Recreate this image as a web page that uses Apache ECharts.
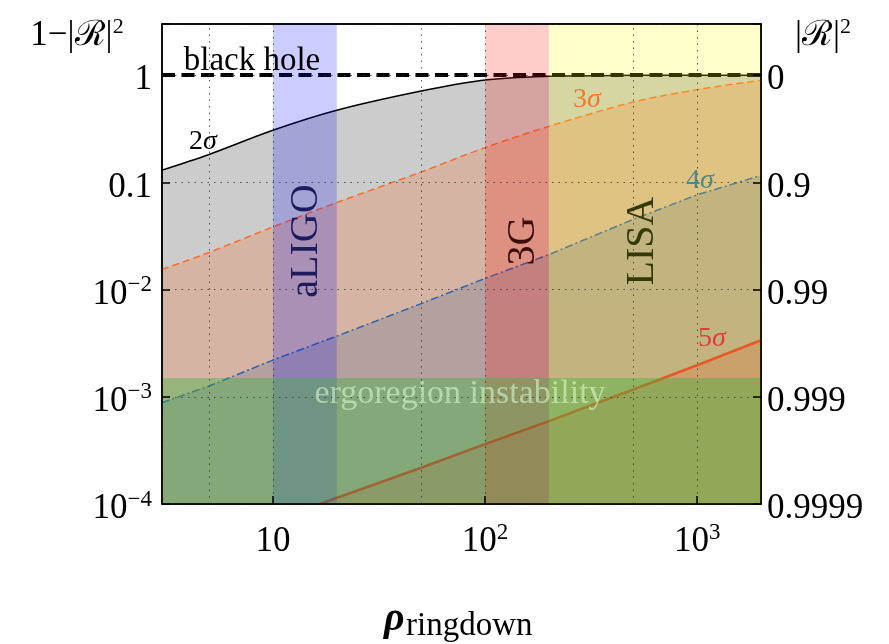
<!DOCTYPE html>
<html><head><meta charset="utf-8">
<script src="https://cdn.jsdelivr.net/npm/echarts@6/dist/echarts.min.js"></script>
<style>html,body{margin:0;padding:0;background:#fff}#c{width:889px;height:644px}</style>
</head><body><div id="c"></div>
<script>
// ---- data ----
const rho = [3, 5, 10, 20, 50, 100, 200, 500, 1000, 2000];
const sigma2 = [0.130, 0.182, 0.306, 0.47, 0.71, 0.90, 0.975, 0.997, 1.0, 1.0];
const sigma3 = [0.0154, 0.0222, 0.0384, 0.0648, 0.125, 0.211, 0.333, 0.562, 0.733, 0.894];
const sigma4 = [0.00088, 0.00126, 0.0022, 0.00368, 0.0074, 0.0127, 0.0212, 0.0452, 0.0765, 0.116];
const rho5 = [16.6, 50, 100, 200, 500, 1000, 2000];
const sigma5 = [0.0001, 0.000218, 0.000362, 0.000593, 0.00117, 0.00197, 0.00337];
const blackHoleLevel = 1;
const ergoRange = [0.0001, 0.0015];
const detectorNames = ['aLIGO', '3G', 'LISA'];
const detectorRanges = [[10, 20], [100, 200], [200, 2000]];
const minorGridX = [5, 50, 500];
const xRange = [3, 2000];
const yRange = [0.0001, 3];
const xTickExp = [1, 2, 3];
const xTickBase = ['10', '10', '10'];
const xTickSup = ['', '2', '3'];
const yTickExp = [-4, -3, -2, -1, 0];
const yLeftBase = ['10', '10', '10', '0.1', '1'];
const yLeftSup = ['\u22124', '\u22123', '\u22122', '', ''];
const yRightLabels = ['0.9999', '0.999', '0.99', '0.9', '0'];

// ---- styling ----
const FONT = "'Liberation Serif', 'DejaVu Serif', serif";
const richLab = {
  b: { fontFamily: FONT, fontSize: 35, lineHeight: 42, color: '#000' },
  s: { fontFamily: FONT, fontSize: 23, lineHeight: 23, verticalAlign: 'top', color: '#000' }
};
function fmt(exps, base, sup) {
  return function (v) {
    const e = Math.log10(v), r = Math.round(e);
    if (Math.abs(e - r) > 1e-6) return '';
    const i = exps.indexOf(r);
    if (i < 0) return '';
    return '{b|' + base[i] + '}' + (sup && sup[i] ? '{s|' + sup[i] + '}' : '');
  };
}
function pts(xs, ys) { return xs.map((x, i) => [x, ys[i]]); }
const gridDot = { type: [1.5, 5], color: '#333', width: 1, opacity: 0.8 };
const tick = { show: true, inside: true, length: 8, lineStyle: { color: '#000', width: 1.5 } };
const axisLine = { show: true, lineStyle: { color: '#000', width: 1.5 } };

const chart = echarts.init(document.getElementById('c'), null, { renderer: 'canvas' });
const bandColors = ['rgba(0,0,255,0.2)', 'rgba(255,0,0,0.2)', 'rgba(255,255,0,0.2)'];
const ergoColor = 'rgba(60,180,60,0.4)';

function txt(x, y, text, size, color, extra) {
  return {
    type: 'text', x: x, y: y, z: 100, silent: true,
    style: Object.assign({
      text: text, fill: color, fontFamily: FONT, fontSize: size,
      align: 'center', verticalAlign: 'middle', textAlign: 'center', textVerticalAlign: 'middle'
    }, extra || {})
  };
}
function sig(x, y, n, color) {
  return txt(x, y, '{n|' + n + '}{g|\u03c3}', 28, color, {
    rich: {
      n: { fontFamily: FONT, fontSize: 28, fill: color, color: color },
      g: { fontFamily: FONT, fontSize: 28, fontStyle: 'italic', fill: color, color: color }
    }
  });
}
const rot = function (o) { o.rotation = Math.PI / 2; return o; };
const titleRich = {
  a: { fontFamily: FONT, fontSize: 35, lineHeight: 40 },
  s: { fontFamily: FONT, fontSize: 22, lineHeight: 22, verticalAlign: 'top' }
};

const option = {
  animation: false,
  backgroundColor: '#fff',
  grid: { left: 162, right: 128, top: 24, bottom: 140, show: true, borderColor: '#000', borderWidth: 1.5, backgroundColor: 'transparent' },
  xAxis: [{
    type: 'log', logBase: 10, min: xRange[0], max: xRange[1], z: 30,
    axisLine: axisLine, axisTick: tick,
    axisLabel: { formatter: fmt(xTickExp, xTickBase, xTickSup), rich: richLab, margin: 17, showMinLabel: false, showMaxLabel: false },
    splitLine: { show: true, lineStyle: gridDot }
  }, {
    type: 'log', logBase: 10, min: xRange[0], max: xRange[1], position: 'top', z: 30,
    axisLine: axisLine, axisTick: { show: false }, axisLabel: { show: false }, splitLine: { show: false }
  }],
  yAxis: [{
    type: 'log', logBase: 10, min: yRange[0], max: yRange[1], z: 30,
    axisLine: axisLine, axisTick: tick,
    axisLabel: { formatter: fmt(yTickExp, yLeftBase, yLeftSup), rich: richLab, margin: 10, padding: [10, 0, 0, 0] },
    splitLine: { show: true, lineStyle: gridDot }
  }, {
    type: 'log', logBase: 10, min: yRange[0], max: yRange[1], position: 'right', z: 30,
    axisLine: axisLine, axisTick: tick,
    axisLabel: { formatter: fmt(yTickExp, yRightLabels, null), rich: richLab, margin: 6, padding: [10, 0, 0, 0] },
    splitLine: { show: false }
  }],
  series: [
    { type: 'line', name: '2sigma', data: pts(rho, sigma2), smooth: 0.35, symbol: 'none', z: 2,
      lineStyle: { color: '#000', width: 1.5 }, areaStyle: { color: 'rgba(0,0,0,0.2)', origin: 'start', opacity: 1 } },
    { type: 'line', name: '3sigma', data: pts(rho, sigma3), smooth: 0.3, symbol: 'none', z: 3,
      lineStyle: { color: '#ff6a2a', width: 1.5, type: [7, 4] }, areaStyle: { color: 'rgba(255,85,0,0.2)', origin: 'start', opacity: 1 } },
    { type: 'line', name: '4sigma', data: pts(rho, sigma4), symbol: 'none', z: 4,
      lineStyle: { color: '#2e62b0', width: 1.5, type: [8, 3, 2, 3] }, areaStyle: { color: 'rgba(30,70,140,0.18)', origin: 'start', opacity: 1 } },
    { type: 'line', name: '5sigma', data: pts(rho5, sigma5), symbol: 'none', z: 5,
      lineStyle: { color: '#e03030', width: 2.5 }, areaStyle: { color: 'rgba(230,50,40,0.2)', origin: 'start', opacity: 1 } },
    { type: 'line', name: 'blackhole', data: [], z: 6,
      markLine: { z: 6, silent: true, symbol: ['none', 'none'], label: { show: false },
        lineStyle: { color: '#000', width: 4, type: [13, 6.5] },
        data: [{ yAxis: blackHoleLevel }] } },
    { type: 'line', name: 'detectors', data: [], z: 7,
      markArea: { z: 7, silent: true, label: { show: false },
        data: detectorRanges.map((r, i) => [{ xAxis: r[0], itemStyle: { color: bandColors[i], opacity: 1 } }, { xAxis: r[1] }]) } },
    { type: 'line', name: 'ergoregion', data: [], z: 8,
      markArea: { z: 8, silent: true, label: { show: false },
        data: [[{ yAxis: ergoRange[0], itemStyle: { color: ergoColor, opacity: 1 } }, { yAxis: ergoRange[1] }]] } },
    { type: 'line', name: 'minorgrid', data: [], z: 9,
      markLine: { z: 9, silent: true, symbol: ['none', 'none'], label: { show: false }, lineStyle: gridDot,
        data: minorGridX.map(v => ({ xAxis: v })) } }
  ],
  graphic: [
    txt(77, 36, '{a|1\u2212|\u211B|}{s|2}', 35, '#000', { rich: titleRich }),
    txt(823, 36, '{a||\u211B|}{s|2}', 35, '#000', { rich: titleRich }),
    txt(252, 61, 'black hole', 33, '#000'),
    sig(203, 142, '2', '#000'),
    sig(587, 100, '3', '#f07828'),
    sig(700, 181, '4', '#4a8a8c'),
    sig(712, 339, '5', '#e03c3c'),
    rot(txt(306, 241, detectorNames[0], 40, '#1c1c5e')),
    rot(txt(523, 241, detectorNames[1], 40, '#3a0c0c')),
    rot(txt(642, 241, detectorNames[2], 40, '#333a08')),
    txt(460, 394, 'ergoregion instability', 34, 'rgba(215,250,205,0.6)'),
    txt(384, 620, '\u03c1', 40, '#000', { align: 'left', textAlign: 'left', fontWeight: 'bold', fontStyle: 'italic' }),
    txt(406, 626, 'ringdown', 33, '#000', { align: 'left', textAlign: 'left' })
  ]
};
chart.setOption(option);
</script></body></html>
